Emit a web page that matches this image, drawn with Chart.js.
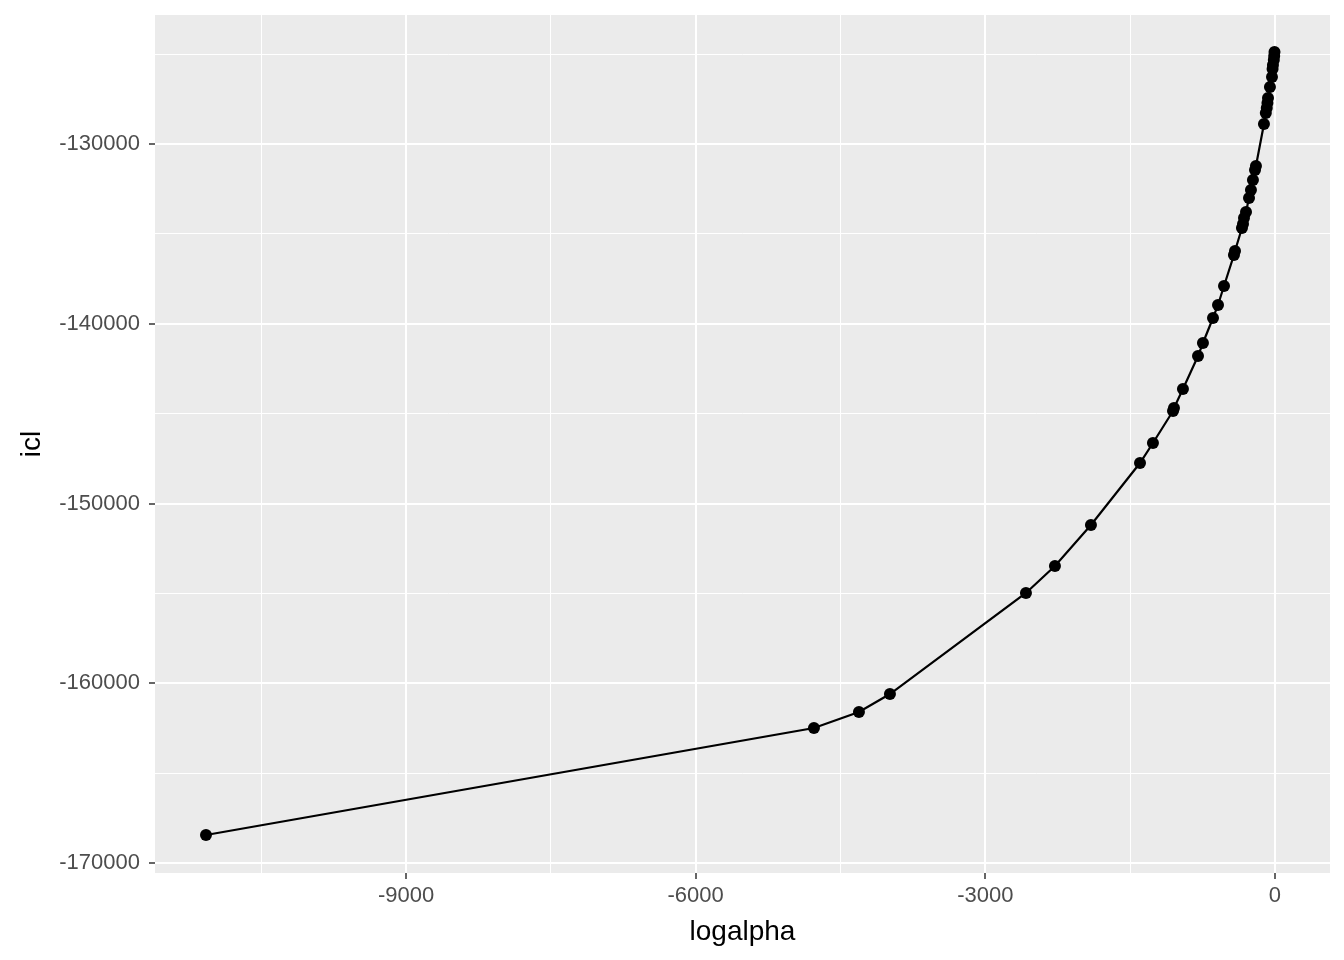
<!DOCTYPE html>
<html>
<head>
<meta charset="utf-8">
<script src="https://cdn.jsdelivr.net/npm/chart.js@4/dist/chart.umd.min.js"></script>
<style>
  body { margin: 0; background: #fff; }
  #wrap { width: 1344px; height: 960px; }
</style>
</head>
<body>
<div id="wrap"><canvas id="chart" width="1344" height="960"></canvas></div>
<script>
// values, sorted by logalpha
const logalpha = [-11072, -4775, -4309, -3988, -2579, -2279, -1906, -1398, -1264,
  -1056, -1046, -953, -797, -746, -642, -590, -528, -425, -414, -342, -331, -321,
  -300, -269, -249, -228, -207, -197, -114, -95, -85, -78, -72, -52, -31, -25,
  -21, -12, -8, -5];
const icl = [-168440, -162490, -161600, -160600, -154978, -153476, -151195, -147746, -146633,
  -144853, -144686, -143629, -141794, -141070, -139680, -138956, -137899, -136175, -135952, -134673, -134450, -134116,
  -133783, -133004, -132559, -132003, -131446, -131224, -128887, -128275, -127997, -127719, -127441, -126829, -126273, -125828,
  -125605, -125327, -125105, -124882];

const xTicks = [-10500, -9000, -7500, -6000, -4500, -3000, -1500, 0];
const yTicks = [-170000, -165000, -160000, -155000, -150000, -145000, -140000, -135000, -130000, -125000];

const points = logalpha.map((x, i) => ({ x: x, y: icl[i] }));

const panelBg = {
  id: 'panelBg',
  beforeDraw(chart) {
    const { ctx, chartArea: a } = chart;
    ctx.save();
    ctx.fillStyle = '#EBEBEB';
    ctx.fillRect(a.left, a.top, a.right - a.left, a.bottom - a.top);
    ctx.restore();
  }
};

const isMajorX = v => v % 3000 === 0;
const isMajorY = v => v % 10000 === 0;

new Chart(document.getElementById('chart'), {
  type: 'scatter',
  data: {
    datasets: [{
      data: points,
      showLine: true,
      borderColor: '#000',
      borderWidth: 2.2,
      backgroundColor: '#000',
      pointRadius: 6,
      pointBorderWidth: 0
    }]
  },
  options: {
    responsive: false,
    animation: false,
    layout: { padding: { left: 0, right: 14, top: 15, bottom: 0 } },
    plugins: { legend: { display: false }, tooltip: { enabled: false } },
    scales: {
      x: {
        min: -11600,
        max: 570,
        afterBuildTicks: s => { s.ticks = xTicks.map(v => ({ value: v })); },
        afterFit: s => { s.height = 87; s.paddingLeft = 0; s.paddingRight = 0; },
        border: { display: false },
        grid: {
          color: '#fff',
          lineWidth: c => isMajorX(c.tick.value) ? 2 : 1,
          tickLength: 6,
          tickWidth: 1.5,
          tickColor: c => isMajorX(c.tick.value) ? '#333' : 'rgba(0,0,0,0)'
        },
        ticks: {
          autoSkip: false,
          maxRotation: 0,
          padding: 4,
          color: '#4D4D4D',
          font: { family: 'Liberation Sans', size: 22 },
          callback: v => isMajorX(v) ? String(v) : ''
        },
        title: {
          display: true,
          text: 'logalpha',
          color: '#000',
          font: { family: 'Liberation Sans', size: 28 },
          padding: { top: 0, bottom: 11 }
        }
      },
      y: {
        min: -170554,
        max: -122824,
        afterBuildTicks: s => { s.ticks = yTicks.map(v => ({ value: v })); },
        afterFit: s => { s.width = 155; s.paddingTop = 0; s.paddingBottom = 0; },
        border: { display: false },
        grid: {
          color: '#fff',
          lineWidth: c => isMajorY(c.tick.value) ? 2 : 1,
          tickLength: 6,
          tickWidth: 1.5,
          tickColor: c => isMajorY(c.tick.value) ? '#333' : 'rgba(0,0,0,0)'
        },
        ticks: {
          autoSkip: false,
          padding: 9,
          color: '#4D4D4D',
          font: { family: 'Liberation Sans', size: 22 },
          callback: v => isMajorY(v) ? String(v) : ''
        },
        title: {
          display: true,
          text: 'icl',
          color: '#000',
          font: { family: 'Liberation Sans', size: 28 },
          padding: { top: 15, bottom: 0 }
        }
      }
    }
  },
  plugins: [panelBg]
});
</script>
</body>
</html>
